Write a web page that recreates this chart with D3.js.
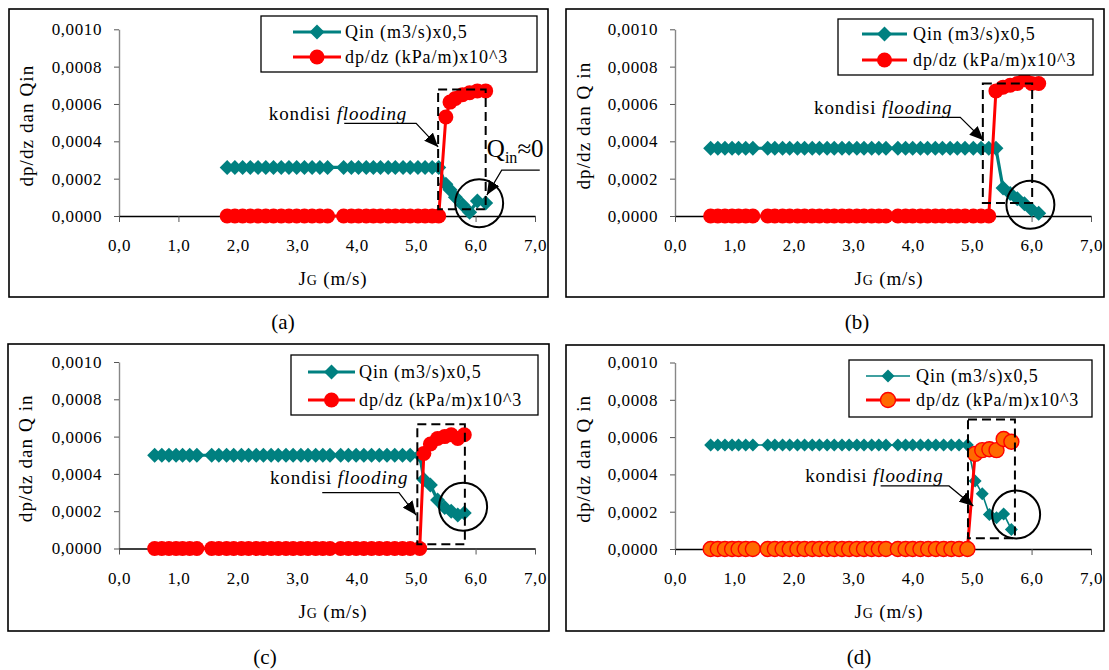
<!DOCTYPE html>
<html><head><meta charset="utf-8">
<script src="https://cdn.jsdelivr.net/npm/d3@7"></script>
<style>
body{margin:0;background:#fff}
svg{display:block}
text{font-family:"Liberation Serif","Times New Roman",serif;fill:#000}
</style>
</head><body>
<svg id="chart" width="1109" height="670"></svg>
<script>
// ---------- shared labels ----------
const xTicks = [0, 1, 2, 3, 4, 5, 6, 7];
const xTickLabels = ["0,0", "1,0", "2,0", "3,0", "4,0", "5,0", "6,0", "7,0"];
const yTicks = [0, 0.0002, 0.0004, 0.0006, 0.0008, 0.0010];
const yTickLabels = ["0,0000", "0,0002", "0,0004", "0,0006", "0,0008", "0,0010"];
const seriesNames = ["Qin (m3/s)x0,5", "dp/dz (kPa/m)x10^3"];
const panelLabels = ["(a)", "(b)", "(c)", "(d)"];
const yTitles = ["dp/dz dan Qin", "dp/dz dan Q in", "dp/dz dan Q in", "dp/dz dan Q in"];
const noteText = ["kondisi ", "flooding"];

// ---------- panel (a) ----------
const jgA = [1.82, 1.95, 2.08, 2.21, 2.34, 2.47, 2.60, 2.73, 2.86, 2.99, 3.12, 3.25, 3.38, 3.51,
  3.78, 3.91, 4.03, 4.16, 4.28, 4.40, 4.53, 4.65, 4.78, 4.90, 5.03, 5.15, 5.27, 5.38,
  5.50, 5.57, 5.66, 5.78, 5.90, 6.03, 6.17];
const qinA = [0.00026, 0.00026, 0.00026, 0.00026, 0.00026, 0.00026, 0.00026, 0.00026, 0.00026, 0.00026, 0.00026, 0.00026, 0.00026, 0.00026,
  0.00026, 0.00026, 0.00026, 0.00026, 0.00026, 0.00026, 0.00026, 0.00026, 0.00026, 0.00026, 0.00026, 0.00026, 0.00026, 0.00026,
  0.00017, 0.00014, 0.00010, 0.00006, 0.00002, 0.00008, 0.00007];
const dpA = [0, 0, 0, 0, 0, 0, 0, 0, 0, 0, 0, 0, 0, 0,
  0, 0, 0, 0, 0, 0, 0, 0, 0, 0, 0, 0, 0, 0,
  0.00053, 0.00061, 0.00063, 0.00065, 0.00066, 0.00067, 0.00067];

// ---------- panel (b) ----------
const jgB = [0.60, 0.72, 0.84, 0.96, 1.07, 1.19, 1.31,
  1.56, 1.68, 1.81, 1.93, 2.06, 2.18, 2.31, 2.43, 2.56, 2.68, 2.81, 2.93, 3.06, 3.18, 3.31, 3.43, 3.55,
  3.75, 3.88, 4.00, 4.13, 4.25, 4.38, 4.50, 4.63, 4.75, 4.88, 5.02, 5.15, 5.28,
  5.40, 5.52, 5.64, 5.76, 5.88, 6.00, 6.12];
const qinB = [0.000363, 0.000363, 0.000363, 0.000363, 0.000363, 0.000363, 0.000363,
  0.000363, 0.000363, 0.000363, 0.000363, 0.000363, 0.000363, 0.000363, 0.000363, 0.000363, 0.000363, 0.000363, 0.000363, 0.000363, 0.000363, 0.000363, 0.000363, 0.000363,
  0.000363, 0.000363, 0.000363, 0.000363, 0.000363, 0.000363, 0.000363, 0.000363, 0.000363, 0.000363, 0.000363, 0.000363, 0.000363,
  0.000363, 0.00015, 0.00012, 0.000092, 0.000065, 0.000035, 0.000015];
const dpB = [0, 0, 0, 0, 0, 0, 0,
  0, 0, 0, 0, 0, 0, 0, 0, 0, 0, 0, 0, 0, 0, 0, 0, 0,
  0, 0, 0, 0, 0, 0, 0, 0, 0, 0, 0, 0, 0,
  0.00067, 0.00069, 0.00070, 0.00071, 0.00073, 0.00071, 0.00071];

// ---------- panel (c) ----------
const jgC = [0.60, 0.72, 0.84, 0.96, 1.07, 1.19, 1.31,
  1.56, 1.68, 1.81, 1.93, 2.06, 2.18, 2.31, 2.43, 2.56, 2.68, 2.81, 2.93, 3.06, 3.18, 3.31, 3.43, 3.55,
  3.73, 3.86, 3.99, 4.12, 4.25, 4.38, 4.51, 4.64, 4.77, 4.90, 5.06,
  5.13, 5.24, 5.36, 5.48, 5.59, 5.70, 5.81];
const qinC = [0.0005, 0.0005, 0.0005, 0.0005, 0.0005, 0.0005, 0.0005,
  0.0005, 0.0005, 0.0005, 0.0005, 0.0005, 0.0005, 0.0005, 0.0005, 0.0005, 0.0005, 0.0005, 0.0005, 0.0005, 0.0005, 0.0005, 0.0005, 0.0005,
  0.0005, 0.0005, 0.0005, 0.0005, 0.0005, 0.0005, 0.0005, 0.0005, 0.0005, 0.0005, 0.0005,
  0.00037, 0.00034, 0.00026, 0.00022, 0.00020, 0.00018, 0.00019];
const dpC = [0, 0, 0, 0, 0, 0, 0,
  0, 0, 0, 0, 0, 0, 0, 0, 0, 0, 0, 0, 0, 0, 0, 0, 0,
  0, 0, 0, 0, 0, 0, 0, 0, 0, 0, 0,
  0.00051, 0.00056, 0.00059, 0.00060, 0.00061, 0.00059, 0.00061];

// ---------- panel (d) ----------
const jgD = [0.60, 0.72, 0.84, 0.96, 1.07, 1.19, 1.31,
  1.56, 1.68, 1.81, 1.93, 2.06, 2.18, 2.31, 2.43, 2.56, 2.68, 2.81, 2.93, 3.06, 3.18, 3.31, 3.43, 3.55,
  3.75, 3.88, 4.00, 4.13, 4.26, 4.39, 4.52, 4.65, 4.78, 4.92,
  5.05, 5.17, 5.29, 5.41, 5.53, 5.66];
const qinD = [0.000558, 0.000558, 0.000558, 0.000558, 0.000558, 0.000558, 0.000558,
  0.000558, 0.000558, 0.000558, 0.000558, 0.000558, 0.000558, 0.000558, 0.000558, 0.000558, 0.000558, 0.000558, 0.000558, 0.000558, 0.000558, 0.000558, 0.000558, 0.000558,
  0.000558, 0.000558, 0.000558, 0.000558, 0.000558, 0.000558, 0.000558, 0.000558, 0.000558, 0.000558,
  0.000365, 0.000296, 0.000185, 0.000167, 0.000188, 0.000105];
const dpD = [0, 0, 0, 0, 0, 0, 0,
  0, 0, 0, 0, 0, 0, 0, 0, 0, 0, 0, 0, 0, 0, 0, 0, 0,
  0, 0, 0, 0, 0, 0, 0, 0, 0, 0,
  0.00051, 0.00053, 0.000535, 0.00053, 0.00059, 0.000575];

// ---------- annotations (data units) ----------
const floodRect = [[5.37, 6.17, 0.000036, 0.000677], [5.18, 6.01, 0.00007, 0.00071], [5.02, 5.82, 0.000023, 0.000666], [4.93, 5.72, 0.000057, 0.000695]];
const zeroCircle = [[6.06, 0.0000677], [5.98, 0.00006], [5.79, 0.000224], [5.74, 0.000185]];
const notePos = [[2.52, 0.000549], [2.34, 0.00058], [2.54, 0.000376], [2.19, 0.000391]];
const notePointer = [
  [[3.79, 0.000496], [5.00, 0.000496], [5.37, 0.00037]],
  [[3.59, 0.000528], [4.80, 0.000528], [5.19, 0.000406]],
  [[3.42, 0.00030], [4.71, 0.00030], [5.00, 0.000179]],
  [[3.46, 0.000338], [4.61, 0.000338], [5.02, 0.000231]]];
const qinZeroPos = [6.19, 0.000318];
const qinZeroPointer = [[7.08, 0.000246], [6.44, 0.000246], [6.19, 0.000112]];

// ---------- layout ----------
const panels = [
  {jg: jgA, qin: qinA, dp: dpA, frame: [9, 9, 548, 297], x0: 119, y0: 216, yTop: 29.3, cap: [283, 322],
   leg: {box: [261, 16, 537, 72], rows: [32, 57], line: [293, 341], text: 345}, thin: false},
  {jg: jgB, qin: qinB, dp: dpB, frame: [566, 9, 1104, 297], x0: 675, y0: 216, yTop: 29.3, cap: [857, 322],
   leg: {box: [838, 19, 1093, 75], rows: [34, 60], line: [862, 907], text: 913}, thin: false},
  {jg: jgC, qin: qinC, dp: dpC, frame: [8, 344, 549, 631], x0: 119, y0: 548.5, yTop: 362, cap: [265, 657],
   leg: {box: [291, 355, 538, 415], rows: [372, 400], line: [308, 355], text: 359}, thin: false},
  {jg: jgD, qin: qinD, dp: dpD, frame: [566, 345, 1104, 631], x0: 675, y0: 549, yTop: 362.5, cap: [859, 657],
   leg: {box: [849, 360, 1092, 417], rows: [376, 400], line: [866, 910], text: 916}, thin: true}
];

const TEAL = "#008080", RED = "#ff0000", ORANGE = "#ff6a00";
const svg = d3.select("#chart");
const defs = svg.append("defs");
defs.append("marker").attr("id", "ah").attr("markerUnits", "userSpaceOnUse")
  .attr("markerWidth", 15).attr("markerHeight", 12).attr("refX", 14).attr("refY", 6)
  .attr("orient", "auto").attr("viewBox", "0 0 15 12")
  .append("path").attr("d", "M0,0 L14,6 L0,12 Z").attr("fill", "#000");

const diamond = h => `M0,${-h}L${h},0L0,${h}L${-h},0Z`;

panels.forEach((p, i) => {
  const g = svg.append("g");
  const x = d3.scaleLinear().domain([0, 7]).range([p.x0, p.x0 + 416]);
  const y = d3.scaleLinear().domain([0, 0.001]).range([p.y0, p.yTop]);

  // axes
  const ya = g.append("g").attr("transform", `translate(${p.x0},0)`)
    .call(d3.axisLeft(y).tickValues(yTicks).tickFormat((d, k) => yTickLabels[k]).tickSize(5).tickSizeOuter(0).tickPadding(12));
  ya.select(".domain").attr("stroke", "#878787").attr("stroke-width", 1.4);
  ya.selectAll(".tick line").attr("stroke", "#555").attr("stroke-width", 1);
  ya.selectAll(".tick text").attr("font-size", 17).attr("letter-spacing", 0.6)
    .attr("font-family", "Liberation Serif").attr("fill", "#000");

  const xa = g.append("g").attr("transform", `translate(0,${p.y0})`)
    .call(d3.axisBottom(x).tickValues(xTicks).tickFormat((d, k) => xTickLabels[k]).tickSize(6).tickSizeOuter(0).tickPadding(17));
  xa.select(".domain").attr("stroke", "#000").attr("stroke-width", 1.3);
  xa.selectAll(".tick line").attr("stroke", "#555").attr("stroke-width", 1);
  xa.selectAll(".tick text").attr("font-size", 17).attr("letter-spacing", 0.6)
    .attr("font-family", "Liberation Serif").attr("fill", "#000");

  // axis titles
  const xt = g.append("text").attr("x", p.x0 + 214).attr("y", p.y0 + 69)
    .attr("text-anchor", "middle").attr("font-size", 19).attr("letter-spacing", 0.8);
  xt.append("tspan").text("J");
  xt.append("tspan").attr("font-size", 14).text("G");
  xt.append("tspan").text(" (m/s)");

  const ymid = (p.y0 + p.yTop) / 2 + 3;
  g.append("text").attr("transform", `translate(${p.frame[0] + 24},${ymid}) rotate(-90)`)
    .attr("text-anchor", "middle").attr("font-size", 19).attr("letter-spacing", 1.1)
    .text(yTitles[i]);

  // series
  const qinPts = p.jg.map((v, k) => [v, p.qin[k]]);
  const dpPts = p.jg.map((v, k) => [v, p.dp[k]]);
  const line = d3.line().x(d => x(d[0])).y(d => y(d[1]));
  const h = p.thin ? 6.5 : 7.5;

  g.append("path").datum(qinPts).attr("d", line).attr("fill", "none")
    .attr("stroke", TEAL).attr("stroke-width", p.thin ? 1.6 : 3.2);
  g.selectAll(".qm").data(qinPts).join("path")
    .attr("transform", d => `translate(${x(d[0])},${y(d[1])})`)
    .attr("d", diamond(h)).attr("fill", TEAL);

  g.append("path").datum(dpPts).attr("d", line).attr("fill", "none")
    .attr("stroke", RED).attr("stroke-width", 3);
  g.selectAll(".dm").data(dpPts).join("circle")
    .attr("cx", d => x(d[0])).attr("cy", d => y(d[1])).attr("r", 7.5)
    .attr("fill", p.thin ? ORANGE : RED)
    .attr("stroke", RED).attr("stroke-width", p.thin ? 1.4 : 0);

  // flooding box
  const r = floodRect[i];
  g.append("rect").attr("x", x(r[0])).attr("y", y(r[3]))
    .attr("width", x(r[1]) - x(r[0])).attr("height", y(r[2]) - y(r[3]))
    .attr("fill", "none").attr("stroke", "#000").attr("stroke-width", 2).attr("stroke-dasharray", "9,5");

  // circle
  const c = zeroCircle[i];
  g.append("circle").attr("cx", x(c[0])).attr("cy", y(c[1])).attr("r", 24)
    .attr("fill", "none").attr("stroke", "#000").attr("stroke-width", 2);

  // note text
  const n = notePos[i];
  const nt = g.append("text").attr("x", x(n[0])).attr("y", y(n[1]) + 6)
    .attr("font-size", 19).attr("letter-spacing", 0.9);
  nt.append("tspan").text(noteText[0]);
  nt.append("tspan").attr("font-style", "italic").text(noteText[1]);

  g.append("path").datum(notePointer[i]).attr("d", line)
    .attr("fill", "none").attr("stroke", "#000").attr("stroke-width", 1.2).attr("marker-end", "url(#ah)");

  if (i === 0) {
    const qt = g.append("text").attr("x", x(qinZeroPos[0])).attr("y", y(qinZeroPos[1])).attr("font-size", 25);
    qt.append("tspan").text("Q");
    qt.append("tspan").attr("font-size", 16).attr("dy", 6).text("in");
    qt.append("tspan").attr("dy", -6).text("≈0");
    g.append("path").datum(qinZeroPointer).attr("d", line)
      .attr("fill", "none").attr("stroke", "#000").attr("stroke-width", 1.2).attr("marker-end", "url(#ah)");
  }

  // legend
  const L = p.leg;
  g.append("rect").attr("x", L.box[0]).attr("y", L.box[1])
    .attr("width", L.box[2] - L.box[0]).attr("height", L.box[3] - L.box[1])
    .attr("fill", "#fff").attr("stroke", "#000").attr("stroke-width", 1.3);
  const lm = (L.line[0] + L.line[1]) / 2;
  g.append("line").attr("x1", L.line[0]).attr("x2", L.line[1]).attr("y1", L.rows[0]).attr("y2", L.rows[0])
    .attr("stroke", TEAL).attr("stroke-width", p.thin ? 1.6 : 3.2);
  g.append("path").attr("transform", `translate(${lm},${L.rows[0]})`).attr("d", diamond(h)).attr("fill", TEAL);
  g.append("line").attr("x1", L.line[0]).attr("x2", L.line[1]).attr("y1", L.rows[1]).attr("y2", L.rows[1])
    .attr("stroke", RED).attr("stroke-width", 3);
  g.append("circle").attr("cx", lm).attr("cy", L.rows[1]).attr("r", 7.5)
    .attr("fill", p.thin ? ORANGE : RED).attr("stroke", RED).attr("stroke-width", p.thin ? 1.4 : 0);
  seriesNames.forEach((s, k) => {
    g.append("text").attr("x", L.text).attr("y", L.rows[k] + 6)
      .attr("font-size", 18).attr("letter-spacing", 0.9).text(s);
  });

  // frame
  g.append("rect").attr("x", p.frame[0]).attr("y", p.frame[1])
    .attr("width", p.frame[2] - p.frame[0]).attr("height", p.frame[3] - p.frame[1])
    .attr("fill", "none").attr("stroke", "#000").attr("stroke-width", 1.6);

  // caption
  svg.append("text").attr("x", p.cap[0]).attr("y", p.cap[1] + 7).attr("text-anchor", "middle")
    .attr("font-size", 21).text(panelLabels[i]);
});
</script>
</body></html>
